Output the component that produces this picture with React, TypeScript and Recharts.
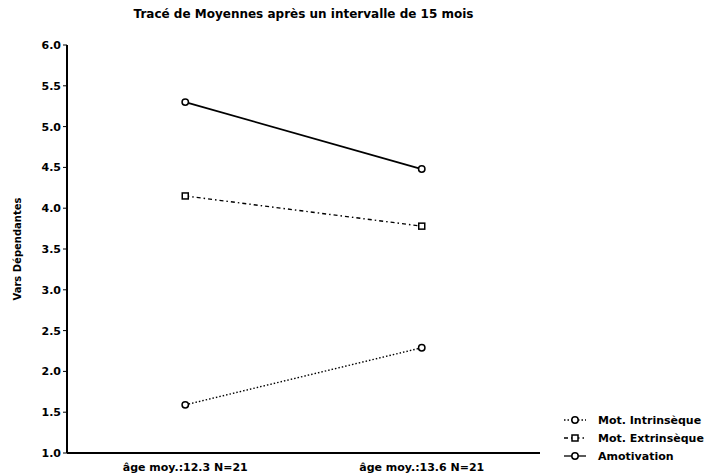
import React from 'react';
import { LineChart, Line, XAxis, YAxis } from 'recharts';

const categories = ['âge moy.:12.3 N=21', 'âge moy.:13.6 N=21'];
const intrinseque = [1.59, 2.29];
const extrinseque = [4.15, 3.78];
const amotivation = [5.3, 4.48];
const yTicks = [1.0, 1.5, 2.0, 2.5, 3.0, 3.5, 4.0, 4.5, 5.0, 5.5, 6.0];

const data = categories.map((cat, i) => ({
  cat,
  intr: intrinseque[i],
  extr: extrinseque[i],
  amot: amotivation[i],
}));

const series = [
  { key: 'intr', name: 'Mot. Intrinsèque', dash: '1.5 2', shape: 'circle' },
  { key: 'extr', name: 'Mot. Extrinsèque', dash: '4 3 1.5 3', shape: 'square' },
  { key: 'amot', name: 'Amotivation', dash: undefined, shape: 'circle' },
];

const font = '"DejaVu Sans", "Liberation Sans", Arial, sans-serif';

const Marker = ({ cx, cy, shape }: { cx: number; cy: number; shape: string }) =>
  shape === 'square' ? (
    <rect x={cx - 3} y={cy - 3} width={6} height={6} fill="#fff" stroke="#000" strokeWidth={1.5} />
  ) : (
    <circle cx={cx} cy={cy} r={3.2} fill="#fff" stroke="#000" strokeWidth={1.5} />
  );

const LegendBox = () => (
  <div
    style={{
      position: 'absolute',
      left: 563,
      top: 411,
      fontFamily: font,
      fontSize: 11,
      fontWeight: 'bold',
      color: '#000',
    }}
  >
    {series.map((s) => (
      <div key={s.key} style={{ display: 'flex', alignItems: 'center', height: 18, whiteSpace: 'nowrap' }}>
        <svg width={26} height={10} style={{ marginRight: 9 }}>
          <line x1={1} y1={5} x2={23} y2={5} stroke="#000" strokeWidth={1.3} strokeDasharray={s.dash} />
          <Marker cx={12} cy={5} shape={s.shape} />
        </svg>
        <span>{s.name}</span>
      </div>
    ))}
  </div>
);

const tickStyle = { fill: '#000', fontSize: 11, fontWeight: 'bold', fontFamily: font };

export default function App() {
  return (
    <div style={{ position: 'absolute', left: 0, top: 0, width: 707, height: 474, background: '#fff' }}>
      <div
        style={{
          position: 'absolute',
          top: 7,
          left: 67,
          width: 473,
          textAlign: 'center',
          fontFamily: font,
          fontSize: 12,
          fontWeight: 'bold',
        }}
      >
        Tracé de Moyennes après un intervalle de 15 mois
      </div>
      <LineChart
        width={707}
        height={474}
        data={data}
        margin={{ top: 45, right: 167, left: 27, bottom: 1 }}
      >
        <XAxis
          dataKey="cat"
          scale="band"
          height={20}
          axisLine={{ stroke: '#000', strokeWidth: 2 }}
          tickLine={false}
          tick={tickStyle}
          dy={2}
          interval={0}
        />
        <XAxis
          xAxisId="top"
          dataKey="cat"
          scale="band"
          orientation="top"
          height={0}
          tick={false}
          tickLine={false}
          axisLine={{ stroke: '#000', strokeWidth: 2 }}
        />
        <YAxis
          width={40}
          domain={[1, 6]}
          ticks={yTicks}
          tickFormatter={(v: number) => v.toFixed(1)}
          axisLine={{ stroke: '#000', strokeWidth: 2 }}
          tickLine={{ stroke: '#000' }}
          tickSize={4}
          tick={tickStyle}
          label={{
            value: 'Vars Dépendantes',
            angle: -90,
            position: 'insideLeft',
            offset: -10,
            style: { textAnchor: 'middle', fill: '#000', fontSize: 10, fontWeight: 'bold', fontFamily: font },
          }}
        />
        <YAxis
          yAxisId="right"
          orientation="right"
          width={0}
          domain={[1, 6]}
          tick={false}
          tickLine={false}
          axisLine={{ stroke: '#000', strokeWidth: 2 }}
        />
        {series.map((s) => (
          <Line
            key={s.key}
            type="linear"
            dataKey={s.key}
            name={s.name}
            stroke="#000"
            strokeWidth={s.dash ? 1.4 : 1.8}
            strokeDasharray={s.dash}
            dot={(p: any) => <Marker key={`${s.key}-${p.index}`} cx={p.cx} cy={p.cy} shape={s.shape} />}
            activeDot={false}
            isAnimationActive={false}
          />
        ))}
      </LineChart>
      <LegendBox />
    </div>
  );
}
